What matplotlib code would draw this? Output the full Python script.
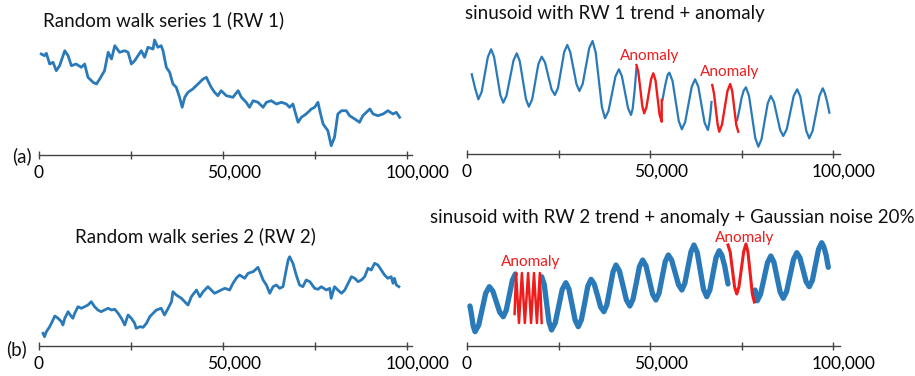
import numpy as np
import matplotlib
matplotlib.use('Agg')
import matplotlib.pyplot as plt
import matplotlib.transforms as mtransforms

plt.rcParams['font.family'] = ['Lato', 'DejaVu Sans']

# x values in thousands, y values in arbitrary level units
rw1_x = [0.6, 1.5, 2.0, 2.9, 3.8, 4.7, 5.6, 7.0, 7.9, 8.8, 10.1, 11.5, 12.4, 13.3, 14.7, 15.6, 16.5, 17.8,
         18.8, 19.7, 20.6, 21.9, 23.3, 24.2, 25.1, 26.0, 26.9, 27.8, 28.7, 29.6, 31.0, 31.4, 32.3, 33.2,
         33.7, 34.6, 35.5, 36.4, 37.3, 38.2, 38.9, 39.6, 40.5, 41.8, 43.2, 44.6, 45.5, 45.9, 46.8, 47.7,
         48.6, 49.5, 50.9, 52.7, 54.1, 55.0, 56.3, 57.2, 58.2, 59.5, 60.9, 61.8, 63.1, 64.5, 65.9, 67.2,
         68.1, 69.0, 69.5, 70.4, 71.3, 72.6, 74.0, 74.9, 75.8, 76.3, 77.2, 78.5, 79.4, 80.3, 81.2, 82.2,
         83.5, 84.4, 85.8, 87.1, 88.0, 89.9, 90.8, 92.1, 93.5, 94.8, 96.2, 97.1, 98.0]
rw1_y = [101, 99.3, 101.7, 91, 92.7, 84.3, 89.3, 104.3, 99.3, 89.3, 91, 87.7, 91, 77.7, 72.7, 71, 76, 84.3,
         102.7, 96, 109.3, 102.7, 104.3, 102.7, 91, 94.3, 99.3, 104.3, 97.7, 107.7, 106, 115, 107.7, 109.3,
         104.3, 87.7, 82.7, 71, 67.7, 57.7, 47.7, 57.7, 62.7, 66, 71, 76, 77.7, 74.3, 67.7, 62.7,
         59.3, 64.3, 59.3, 57.7, 64.3, 57.7, 52.7, 47.7, 54.3, 52.7, 47.7, 52.7, 54.3, 51, 52.7, 51,
         47.7, 51, 44.3, 32.7, 37.7, 41, 46, 47.7, 52.7, 44.3, 31, 24.3, 9.3, 17.7, 41, 44.3,
         44.3, 39.3, 36, 32.7, 39.3, 46, 41, 39.3, 41, 44.3, 41, 42.7, 37.7]

rw2_x = [1.1, 1.5, 2.0, 2.9, 3.8, 4.3, 5.2, 6.1, 6.5, 7.0, 7.9, 8.5, 9.2, 9.7, 10.6, 11.5, 12.4, 13.3, 14.2,
         15.1, 16.0, 16.9, 17.8, 18.8, 19.7, 20.6, 21.5, 22.4, 23.3, 24.2, 25.1, 26.0, 26.4, 27.4, 28.3,
         29.2, 30.1, 31.0, 31.9, 33.2, 34.1, 35.1, 36.0, 36.4, 37.3, 38.7, 40.0, 40.5, 41.4, 42.8, 43.7,
         44.6, 45.9, 46.8, 47.7, 48.6, 49.5, 50.5, 51.8, 52.7, 53.6, 54.5, 55.9, 56.8, 58.2, 59.5, 60.0,
         60.9, 61.8, 62.7, 63.6, 64.5, 65.4, 66.3, 67.0, 67.7, 68.1, 69.0, 69.9, 70.8, 71.7, 72.6, 73.6,
         74.9, 75.8, 76.7, 78.1, 79.0, 79.4, 80.3, 81.2, 82.2, 83.1, 84.0, 84.9, 85.8, 86.7, 87.6, 88.5,
         89.4, 90.3, 91.2, 92.1, 93.0, 93.9, 94.8, 95.7, 96.2, 96.6, 97.1, 97.8]
rw2_y = [12.7, 9.3, 14.3, 19.3, 26, 30, 27.7, 24.3, 21, 27.7, 34.3, 31, 27.7, 32.7, 39.3, 37.7, 39.3, 41, 44.3,
         39.3, 36, 34.3, 36, 37.7, 36, 36.7, 32.7, 27.7, 21, 31, 27.7, 22.7, 17.7, 19.3, 18.7,
         22.7, 29.3, 32.7, 36, 37.7, 31, 37.7, 44.3, 54.3, 51, 47.7, 42.7, 41, 49.3, 56, 49.3,
         54.3, 59.3, 56, 52.7, 54.3, 56, 57.7, 56, 62.7, 67.7, 71, 67.7, 72.7, 74.3, 78.7, 74.3,
         66, 61, 52.7, 59.3, 61, 57.7, 59.3, 72.7, 86, 89.3, 82.7, 71, 61, 59.3, 66, 64.3,
         57.7, 56.7, 59.3, 56, 57.7, 47.7, 59.3, 56, 52.7, 56, 62.7, 69.3, 67.7, 64.3, 66, 69.3,
         77.7, 76, 82.7, 81, 76, 71, 67.7, 69.3, 62.7, 67.7, 61, 59.3]

# sinusoid with RW 1 trend: blue pieces and red anomaly pieces
sa_blue1_x = [1.3, 2.2, 3.1, 4.0, 4.85, 5.7, 6.6, 7.4, 8.25, 9.1, 9.9, 10.8, 11.75, 12.7, 13.6, 14.4, 15.25,
              16.1, 16.9, 17.8, 18.65, 19.5, 20.4, 21.3, 22.2, 23.1, 24.0, 24.85, 25.7, 26.55, 27.4, 28.2,
              29.05, 29.9, 30.7, 31.6, 32.5, 33.4, 34.3, 35.15, 36.0, 36.85, 37.7, 38.65, 39.6, 40.55, 41.5,
              42.3, 43.15, 44.0, 44.8, 45.25, 45.75, 46.3]
sa_blue1_y = [79.7, 66, 54.7, 62, 79.7, 97, 104.7, 97, 78, 59, 51.3, 58.5, 76, 93.5, 100.7, 93, 74,
              55, 47.3, 54.6, 72.3, 90, 97.3, 91.7, 78, 64.6, 59, 66, 84, 102, 109, 102,
              86, 70, 63, 70, 88, 106, 113, 101.7, 74.3, 47, 35.7, 42.9, 60.2, 77.5, 84.7,
              78, 62, 45.7, 39, 45, 62, 86]
sa_red1_x = [46.3, 46.8, 47.35, 47.9, 48.4, 49.0, 49.65, 50.3, 50.9, 51.5, 52.05, 52.6, 53.2, 53.2]
sa_red1_y = [89, 82, 65, 47.7, 40.7, 46.5, 60.7, 75, 80.7, 73.6, 56.5, 39.4, 32.3, 54]
sa_blue2_x = [53.4, 53.9, 54.4, 54.85, 55.3, 56.15, 57.0, 57.85, 58.7, 59.6, 60.5, 61.4, 62.3, 63.2, 64.05,
              64.9, 65.8, 66.15, 66.5, 66.8]
sa_blue2_y = [54, 64, 73, 79.5, 81.3, 73, 53, 33, 24.7, 32, 49.7, 67.4, 74.7, 67.3, 49.3,
              31.4, 24, 30, 40, 52]
sa_red2_x = [67.0, 67.5, 67.95, 68.45, 68.9, 69.65, 70.4, 71.15, 71.9, 72.45, 73.0, 73.55, 74.1]
sa_red2_y = [69, 60, 45.6, 30, 22.3, 29.3, 46, 63, 70, 63, 46, 29.3, 22.3]
sa_blue3_x = [73.8, 74.4, 75.0, 75.6, 76.2, 77.05, 77.9, 78.75, 79.6, 80.45, 81.3, 82.15, 83.0, 83.85, 84.7,
              85.55, 86.4, 87.35, 88.3, 89.25, 90.2, 91.05, 91.85, 92.7, 93.5, 94.4, 95.35, 96.3, 97.2,
              97.75, 98.4, 99.0]
sa_blue3_y = [34, 44, 56, 63.5, 66.7, 58, 37, 16, 7.3, 14.7, 32.7, 50.6, 58, 52, 38,
              24, 18, 24.8, 41.4, 58, 64.7, 57.5, 40.2, 23, 15.7, 23, 40.7, 58.4, 65.7,
              61, 52, 41.3]

# sinusoid with RW 2 trend + noise
sb_blue1_x = [0.8, 1.2, 1.7, 2.2, 3.2, 4.15, 5.1, 6.1, 7.05, 8.0, 8.95, 9.9, 10.7, 11.55, 12.4, 13.2]
sb_blue1_y = [40, 32, 20, 14.3, 21, 36.8, 52.7, 59.3, 55, 44.3, 33.7, 29.3, 35.5, 50.6, 65.8, 72]
sb_red1_x = [13.0, 13.4, 14.2, 15.0, 15.8, 16.7, 17.5, 18.3, 19.1, 19.9, 20.4]
sb_red1_y = [32, 73, 23, 73, 23, 73, 23, 73, 23, 73, 23]
sb_blue2_x = [20.4, 21.1, 21.75, 22.4, 23.1, 24.1, 25.05, 26.0, 27.0, 27.85, 28.7, 29.55, 30.4, 31.25, 32.15,
              33.0, 33.9, 34.75, 35.65, 36.5, 37.4, 38.2, 39.05, 39.9, 40.7, 41.65, 42.6, 43.55, 44.5,
              45.35, 46.25, 47.1, 48.0, 48.9, 49.8, 50.7, 51.6, 52.45, 53.3, 54.15, 55.0, 55.9, 56.85,
              57.8, 58.7, 59.5, 60.35, 61.2, 62.0, 62.9, 63.75, 64.6, 65.5, 66.35, 67.2, 68.05, 68.9,
              69.6, 70.4, 71.3]
sb_blue2_y = [69.3, 61.5, 42.6, 24, 16, 23, 39.6, 56.4, 63.3, 56.9, 41.3, 25.7, 19.3, 26.2, 43,
              59.8, 66.7, 62, 50.5, 39, 34.3, 41.1, 57.6, 74.2, 81, 75, 60.5, 46, 40,
              46.7, 63, 79.3, 86, 80.2, 66, 51.8, 46, 52.6, 68.5, 84.4, 91, 85.9, 73.5,
              61.1, 56, 62.6, 78.5, 94.4, 101, 93.5, 75.2, 56.8, 49.3, 56, 72.3, 88.6, 95.3,
              91, 80, 62]
sb_red2_x = [71.3, 71.9, 72.5, 73.1, 73.7, 74.3, 74.95, 75.6, 76.2, 76.75, 77.35, 77.95, 78.5]
sb_red2_y = [101, 94, 76.5, 59, 52, 59.3, 77, 94.7, 102, 94, 73, 52, 44]
sb_blue3_x = [78.7, 79.3, 80.2, 81.15, 82.1, 83.0, 83.85, 84.7, 85.55, 86.4, 87.3, 88.25, 89.2, 90.1, 90.95,
              91.8, 92.65, 93.5, 94.35, 95.2, 96.05, 96.9, 97.45, 98.1, 98.7]
sb_blue3_y = [56, 45.3, 51.8, 67.6, 83.5, 90, 83.8, 68.8, 53.9, 47.7, 54.4, 70.5, 86.6, 93.3, 88.3,
              76.3, 64.3, 59.3, 65.7, 81.3, 96.9, 103.3, 99.5, 91, 78.7]

tick_values = [0, 25000, 50000, 75000, 100000]
tick_labels = ['0', '', '50,000', '', '100,000']

blue = '#2a7ab9'
red = '#f01c1c'
W, H = 915, 376


def make_axes(left, right, axis_y, height, xmax):
    ax = fig.add_axes([left / W, (H - axis_y) / H, (right - left) / W, height / H])
    ax.set_xlim(0, xmax)
    ax.set_ylim(0, height)
    for side in ['left', 'right', 'top']:
        ax.spines[side].set_visible(False)
    ax.spines['bottom'].set_color('#444444')
    ax.spines['bottom'].set_linewidth(1.0)
    ax.set_yticks([])
    ax.set_xticks(tick_values)
    ax.set_xticklabels(tick_labels)
    ax.tick_params(axis='x', direction='inout', length=6, width=1, color='#444444',
                   labelsize=12.5, pad=4)
    # the labels sit a little right of their ticks in the original figure
    shift = mtransforms.ScaledTranslation(11 / 100, 0, fig.dpi_scale_trans)
    for lab in ax.get_xticklabels():
        if lab.get_text() in ('50,000', '100,000'):
            lab.set_transform(lab.get_transform() + shift)
    ax.patch.set_alpha(0)
    return ax


def k(values):
    return np.array(values) * 1000


def fig_text(x, y, s, **kw):
    fig.text(x / W, 1 - y / H, s, **kw)


fig = plt.figure(figsize=(9.15, 3.76), dpi=100)

ax1 = make_axes(39, 412, 155, 125, 101360)
ax1.plot(k(rw1_x), rw1_y, color=blue, lw=2.0)

ax2 = make_axes(467, 840, 154, 125, 101900)
ax2.plot(k(sa_blue1_x), sa_blue1_y, color=blue, lw=1.6)
ax2.plot(k(sa_blue2_x), sa_blue2_y, color=blue, lw=1.6)
ax2.plot(k(sa_blue3_x), sa_blue3_y, color=blue, lw=1.6)
ax2.plot(k(sa_red1_x), sa_red1_y, color=red, lw=1.7)
ax2.plot(k(sa_red2_x), sa_red2_y, color=red, lw=1.7)

ax3 = make_axes(39, 412, 346, 100, 101360)
ax3.plot(k(rw2_x), rw2_y, color=blue, lw=2.0)

ax4 = make_axes(467, 840, 346, 110, 101900)
ax4.plot(k(sb_blue1_x), sb_blue1_y, color=blue, lw=3.8, solid_capstyle='round')
ax4.plot(k(sb_blue2_x), sb_blue2_y, color=blue, lw=3.8, solid_capstyle='round')
ax4.plot(k(sb_blue3_x), sb_blue3_y, color=blue, lw=3.8, solid_capstyle='round')
ax4.plot(k(sb_red1_x), sb_red1_y, color=red, lw=1.8)
ax4.plot(k(sb_red2_x), sb_red2_y, color=red, lw=2.2)

title_kw = dict(fontsize=13.5, va='center', ha='left', color='#111111')
fig_text(43, 20, 'Random walk series 1 (RW 1)', **title_kw)
fig_text(465, 13, 'sinusoid with RW 1 trend + anomaly', **title_kw)
fig_text(75, 236, 'Random walk series 2 (RW 2)', **title_kw)
fig_text(430, 218, 'sinusoid with RW 2 trend + anomaly + Gaussian noise 20%', **title_kw)
fig_text(12, 156, '(a)', **title_kw)
fig_text(6, 349, '(b)', **title_kw)

anom_kw = dict(fontsize=11, va='center', ha='center', color=red)
fig_text(650, 56, 'Anomaly', **anom_kw)
fig_text(730, 72, 'Anomaly', **anom_kw)
fig_text(531, 262, 'Anomaly', **anom_kw)
fig_text(745, 238, 'Anomaly', **anom_kw)

fig.savefig('out.png', dpi=100)
